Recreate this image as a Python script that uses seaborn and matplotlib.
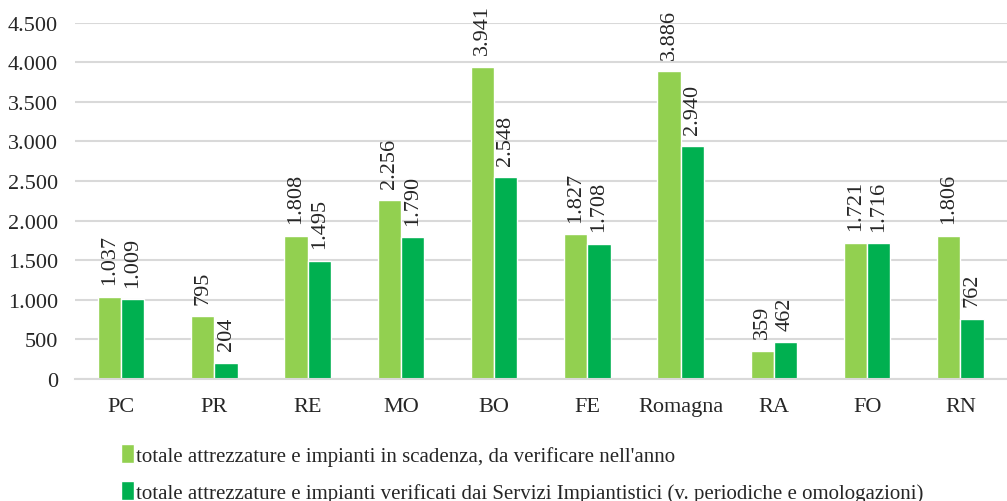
import matplotlib
matplotlib.use('Agg')
import matplotlib.pyplot as plt
import seaborn as sns
import pandas as pd
import numpy as np
from matplotlib.ticker import FuncFormatter

# Data
province = ['PC', 'PR', 'RE', 'MO', 'BO', 'FE', 'Romagna', 'RA', 'FO', 'RN']
in_scadenza = [1037, 795, 1808, 2256, 3941, 1827, 3886, 359, 1721, 1806]
verificati = [1009, 204, 1495, 1790, 2548, 1708, 2940, 462, 1716, 762]

serie1 = "totale attrezzature e impianti in scadenza, da verificare nell'anno"
serie2 = "totale attrezzature e impianti verificati dai Servizi Impiantistici (v. periodiche e omologazioni)"

df = pd.DataFrame({'provincia': province * 2,
                   'valore': in_scadenza + verificati,
                   'serie': [serie1] * len(province) + [serie2] * len(province)})

sns.set_style('white')
plt.rcParams['font.family'] = ['Liberation Serif', 'DejaVu Serif']

def ita(v):
    return f'{int(round(v)):,}'.replace(',', '.')

fig = plt.figure(figsize=(10.07, 5.02), dpi=100)
ax = fig.add_axes([0.074, 0.243, 0.926, 0.71])

sns.barplot(data=df, x='provincia', y='valore', hue='serie',
            palette=['#92D050', '#00B050'], width=0.5, saturation=1,
            ax=ax, legend=True)

for cont in ax.containers:
    ax.bar_label(cont, labels=[ita(v) for v in cont.datavalues],
                 rotation=90, padding=9, fontsize=16)

ax.set_ylim(0, 4500)
ax.set_yticks(np.arange(0, 4501, 500))
ax.yaxis.set_major_formatter(FuncFormatter(lambda v, p: ita(v)))
ax.grid(axis='y', color='#D9D9D9', linewidth=1.5)
ax.set_axisbelow(True)
for s in ['top', 'right', 'left']:
    ax.spines[s].set_visible(False)
ax.spines['bottom'].set_color('#D9D9D9')
ax.spines['bottom'].set_linewidth(1.5)
ax.tick_params(axis='both', length=0, labelsize=16)
ax.tick_params(axis='x', pad=13)
ax.tick_params(axis='y', pad=12)
ax.set_xlabel('')
ax.set_ylabel('')

handles, labels = ax.get_legend_handles_labels()
ax.get_legend().remove()
fig.legend(handles, labels, loc='upper left', bbox_to_anchor=(0.112, 0.13),
           frameon=False, ncol=1, fontsize=15, handlelength=0.6,
           handleheight=1.0, handletextpad=0.1, labelspacing=0.75,
           borderaxespad=0)

fig.savefig('out.png', dpi=100)
